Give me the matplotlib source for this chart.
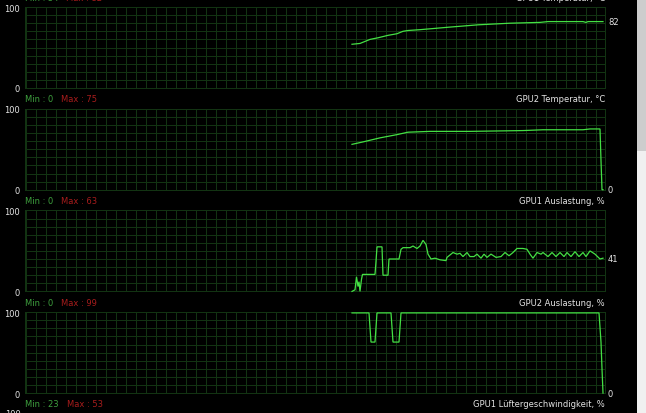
import numpy as np
import matplotlib
matplotlib.use("Agg")
import matplotlib.pyplot as plt
from matplotlib.patches import Rectangle

# ---------------- data (time in samples from left edge of graph) ----------------
titles = ["GPU1 Temperatur, °C", "GPU2 Temperatur, °C", "GPU1 Auslastung, %",
          "GPU2 Auslastung, %"]
min_labels = ["Min : 54", "Min : 0", "Min : 0", "Min : 0"]
max_labels = ["Max : 82", "Max : 75", "Max : 63", "Max : 99"]
next_title = "GPU1 Lüftergeschwindigkeit, %"
next_min = "Min : 23"
next_max = "Max : 53"
y_tick_values = [0, 100]
y_tick_labels = ["0", "100"]
current_labels = ["82", "0", "41", "0"]

t1 = [327, 335, 339, 345, 353, 363, 372, 378, 383, 395, 423, 453, 485, 515, 523,
      558, 561, 563, 565, 575, 578]
v1 = [54, 55, 57, 60, 62, 65, 67, 70, 71, 72, 75, 78, 80, 81, 82,
      82, 81, 82, 82, 82, 82]

t2 = [327, 338, 355, 372, 383, 405, 445, 498, 518, 558, 565, 575, 576, 577, 578]
v2 = [56, 59, 64, 68, 71, 72, 72, 73, 74, 74, 75, 75, 36, 0, 0]

t3 = [327, 330, 331.5, 333, 334, 335, 336.5, 337.5, 350, 351, 352, 357, 358, 363,
      364, 374, 376, 378, 385, 388, 392, 395, 398, 401, 403, 406, 410, 415, 421,
      422, 428, 432, 435, 438, 442, 445, 449, 452, 456, 459, 462, 466, 471, 476,
      480, 484, 488, 492, 498, 502, 505, 508, 512, 516, 518, 523, 527, 531, 535,
      539, 542, 546, 550, 554, 558, 561, 565, 570, 575, 578]
v3 = [0, 2, 18, 6, 12, 0, 15, 21, 21, 37, 55, 55, 20, 20,
      40, 40, 52, 54, 54, 56, 53, 56, 63, 58, 46, 40, 41, 39, 38,
      42, 48, 46, 47, 43, 48, 43, 43, 46, 41, 46, 42, 46, 42, 43,
      48, 44, 48, 53, 53, 52, 46, 41, 48, 46, 48, 43, 48, 43, 48,
      43, 48, 43, 49, 43, 48, 43, 50, 46, 40, 41]

t4 = [327, 344, 345, 346, 350, 351, 352, 366, 367, 368, 374, 375, 376, 574, 575,
      576, 577, 578]
v4 = [99, 99, 81, 63, 63, 81, 99, 99, 81, 63, 63, 81, 99, 99, 81, 63, 30, 0]

series_t = [t1, t2, t3, t4]
series_v = [v1, v2, v3, v4]

# ---------------- style ----------------
W, H = 646, 414
BG = "#000000"
GRID = "#123312"
LINE = "#44e044"
TXT = "#e4e4e4"
GREEN = "#3ea03e"
RED = "#a81c1c"
FONT = "DejaVu Sans"
FS = 6.0

plt.rcParams["font.family"] = [FONT]

fig = plt.figure(figsize=(W / 100, H / 100), dpi=100, facecolor=BG)

left_px, width_px = 25, 580
top0, step, height_px = 8.0, 101.7, 81.0

axes = []
for k in range(4):
    top = top0 + step * k
    ax = fig.add_axes([left_px / W, 1 - (top + height_px) / H, width_px / W, height_px / H])
    ax.set_facecolor(BG)
    ax.set_xlim(0, 580)
    ax.set_ylim(0, 100)
    ax.set_xticks(np.arange(1, 580, 10), minor=True)
    ax.set_xticks([])
    ax.set_yticks(np.arange(0, 101, 10), minor=True)
    ax.set_yticks(y_tick_values, y_tick_labels)
    ax.tick_params(which="both", length=0)
    ax.tick_params(axis="y", pad=4, labelsize=FS, labelcolor=TXT)
    ax.grid(True, which="both", color=GRID, lw=0.72)
    for s in ax.spines.values():
        s.set_color(GRID)
        s.set_linewidth(0.72)
    ax.plot(series_t[k], series_v[k], color=LINE, lw=0.9, solid_joinstyle="miter",
            clip_on=False, zorder=3)

    # header above panel
    ax.annotate(titles[k], xy=(1, 1), xycoords="axes fraction", xytext=(0, 10),
                textcoords="offset pixels", ha="right", va="center", fontsize=FS,
                color=TXT, annotation_clip=False)
    mt = ax.annotate(min_labels[k], xy=(0, 1), xycoords="axes fraction", xytext=(0, 10),
                     textcoords="offset pixels", ha="left", va="center", fontsize=FS,
                     color=GREEN, annotation_clip=False)
    ax.annotate(max_labels[k], xy=(1, 0.5), xycoords=mt, xytext=(8, 0),
                textcoords="offset pixels", ha="left", va="center", fontsize=FS,
                color=RED, annotation_clip=False)
    # current value at the right
    ax.annotate(current_labels[k], xy=(1, series_v[k][-1]),
                xycoords=ax.get_yaxis_transform(), xytext=(3, 0),
                textcoords="offset pixels", ha="left", va="center", fontsize=FS,
                color=TXT, annotation_clip=False)
    axes.append(ax)

# header of the next (cut-off) panel
last = axes[-1]
off = -(step - height_px - 10)
last.annotate(next_title, xy=(1, 0), xycoords="axes fraction", xytext=(0, off),
              textcoords="offset pixels", ha="right", va="center", fontsize=FS,
              color=TXT, annotation_clip=False)
mt = last.annotate(next_min, xy=(0, 0), xycoords="axes fraction", xytext=(0, off),
                   textcoords="offset pixels", ha="left", va="center", fontsize=FS,
                   color=GREEN, annotation_clip=False)
last.annotate(next_max, xy=(1, 0.5), xycoords=mt, xytext=(8, 0),
              textcoords="offset pixels", ha="left", va="center", fontsize=FS,
              color=RED, annotation_clip=False)
last.annotate(y_tick_labels[1], xy=(0, 0), xycoords="axes fraction",
              xytext=(-4, -(step - height_px)), textcoords="offset pixels",
              ha="right", va="center", fontsize=FS, color=TXT, annotation_clip=False)

# scrollbar at the right edge
fig.add_artist(Rectangle((637 / W, 0), 9 / W, 1 - 152 / H, transform=fig.transFigure,
                         facecolor="#f0f0f0", edgecolor="none"))
fig.add_artist(Rectangle((637 / W, 1 - 152 / H), 9 / W, 152 / H, transform=fig.transFigure,
                         facecolor="#cdcdcd", edgecolor="none"))

fig.savefig("out.png", dpi=100, facecolor=BG)
